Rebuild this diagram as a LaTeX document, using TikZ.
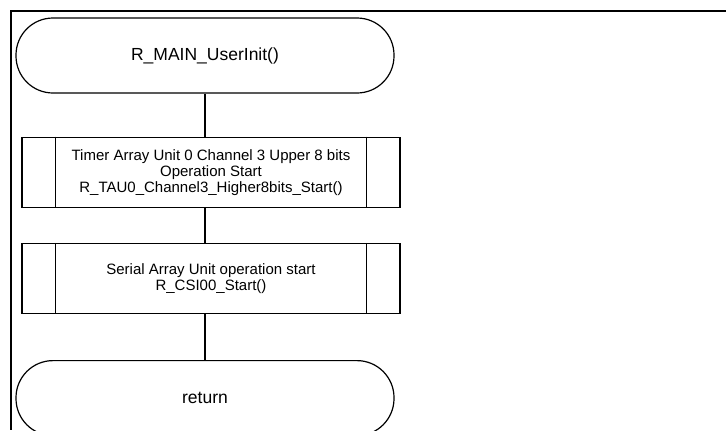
\documentclass[tikz,border=0pt]{standalone}
\usepackage{fontspec}
\setmainfont{Liberation Sans}
\usetikzlibrary{positioning}

\begin{document}
\begin{tikzpicture}[
  x=1bp, y=-1bp,
  node distance=43bp,
  terminal/.style={draw,line width=1.2bp,rounded corners=37bp,minimum width=378bp,minimum height=75bp,font=\fontsize{17.5bp}{21bp}\selectfont},
  subbox/.style={draw,line width=1.2bp,minimum width=378bp,minimum height=70bp,align=center,font=\fontsize{15bp}{16bp}\selectfont},
  link/.style={line width=1.2bp}
]
\useasboundingbox (0,0) rectangle (726,430);
\draw[line width=2.2bp] (726,11) -| (11,430);

\node[terminal] (init) at (205,55.5) {R\_MAIN\_UserInit()};
\node[subbox,below=43bp of init,xshift=6bp] (tau) {Timer Array Unit 0 Channel 3 Upper 8 bits\\Operation Start\\R\_TAU0\_Channel3\_Higher8bits\_Start()};
\node[subbox,below=35bp of tau] (csi) {Serial Array Unit operation start\\R\_CSI00\_Start()};
\node[terminal,below=46bp of csi,xshift=-6bp] (ret) {return};

\foreach \n in {tau,csi}
  \draw[link] ([xshift=34bp]\n.north west) -- ([xshift=34bp]\n.south west)
    ([xshift=-34bp]\n.north east) -- ([xshift=-34bp]\n.south east);

\draw[link] (init.south) -- (init.south |- tau.north);
\draw[link] (init.south |- tau.south) -- (init.south |- csi.north);
\draw[link] (init.south |- csi.south) -- (ret.north);

\end{tikzpicture}
\end{document}
